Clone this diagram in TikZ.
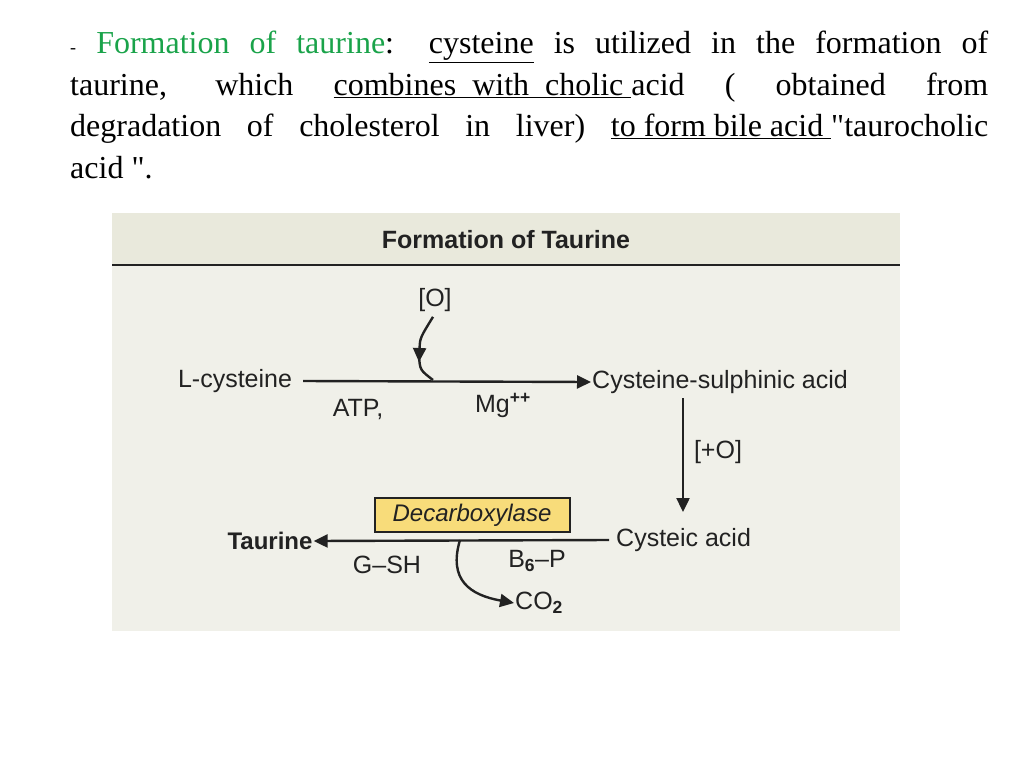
\documentclass[tikz,border=0pt]{standalone}
\usepackage{fontspec}
\setmainfont{Liberation Serif}
\newfontfamily\rawser{Liberation Serif}
\newfontfamily\dsans{Liberation Sans}
\usetikzlibrary{arrows.meta}
\definecolor{bg}{HTML}{F0F0E9}
\definecolor{hdr}{HTML}{E9E9DC}
\definecolor{grn}{HTML}{1AA34A}
\definecolor{ink}{HTML}{222222}
\definecolor{boxy}{HTML}{F8DC7A}
\tikzset{lbl/.style={font=\dsans\fontsize{25}{27}\selectfont,text=ink,inner sep=1pt},
 arr/.style={draw=ink,line width=2.4pt,-{Triangle[length=14pt,width=13pt]}}}
\begin{document}
\begin{tikzpicture}[x=1pt,y=-1pt]
\useasboundingbox (0,0) rectangle (1024,768);
\node[anchor=north west,inner sep=0,text width=918pt,align=justify,font=\fontsize{32}{41.5}\selectfont] (para) at (70,31)
{{\fontsize{18}{20}\selectfont -} \textcolor{grn}{Formation of taurine}: \underline{cysteine} is utilized in the formation of\linebreak
taurine, which \underline{combines\ \ with\ \ cholic\ }acid ( obtained from\linebreak
degradation of cholesterol in liver) \underline{to form bile acid\ }{\rawser"}taurocholic\linebreak
acid {\rawser"}.\par};
\fill[bg] (112,213) rectangle (900,631);
\fill[hdr] (112,213) rectangle (900,265);
\draw[ink,line width=2.5pt] (112,265) -- (900,265);
\node[lbl,font=\dsans\bfseries\fontsize{25}{27}\selectfont] (title) at (506,240) {Formation of Taurine};
\node[lbl] (lcys) at (235,381) {L-cysteine};
\node[lbl,anchor=west] (csa) at (591,382) {Cysteine-sulphinic acid};
\node[lbl] (o) at (435,300) {[O]};
\node[lbl] (atp) at (358,409) {ATP,};
\node[lbl] (mg) at (503,405) {Mg\textsuperscript{\bfseries ++}};
\node[lbl] (po) at (718,452) {[+O]};
\node[lbl,anchor=west] (ca) at (615,540) {Cysteic acid};
\node[lbl,draw=ink,line width=2pt,fill=boxy,minimum width=195pt,minimum height=34pt,font=\dsans\itshape\fontsize{24}{26}\selectfont] (dec) at (472,515) {Decarboxylase};
\node[lbl,font=\dsans\bfseries\fontsize{24}{26}\selectfont] (tau) at (270,541) {Taurine};
\node[lbl] (gsh) at (387,565) {G–SH};
\node[lbl] (b6) at (537,561) {B\textsubscript{\bfseries 6}–P};
\node[lbl,anchor=west] (co2) at (514,603) {CO\textsubscript{\bfseries 2}};
\coordinate (j1) at (433,380);
\coordinate (j2) at (460,540);
\draw[arr] (lcys.east) ++(10,0) -- (csa.west);
\draw[arr] (o.south) ++(-2,4) .. controls (420,338) .. (419,362);
\draw[ink,line width=2.4pt] (419,356) .. controls (420,370) .. (j1);
\draw[arr] (683,398) -- (683,512);
\draw[arr] (ca.west) ++(-6,0) -- (tau.east);
\draw[arr] (j2) .. controls (448,580) and (470,595) .. (co2.west);
\end{tikzpicture}
\end{document}
